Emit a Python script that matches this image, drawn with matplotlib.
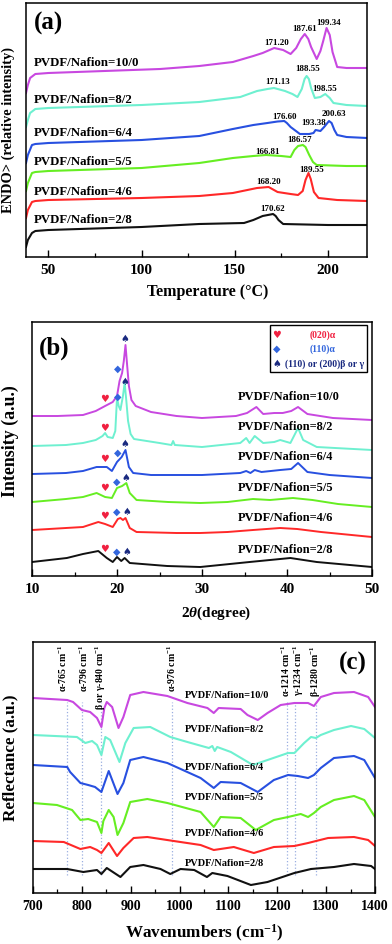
import matplotlib
matplotlib.use('Agg')
import matplotlib.pyplot as plt
from matplotlib.ticker import MultipleLocator
from matplotlib.patches import Rectangle

plt.rcParams['font.family'] = ['Liberation Serif', 'DejaVu Serif']
plt.rcParams['font.weight'] = 'bold'
plt.rcParams['mathtext.fontset'] = 'custom'
plt.rcParams['mathtext.rm'] = 'Liberation Serif:bold'
plt.rcParams['mathtext.it'] = 'Liberation Serif:italic:bold'
plt.rcParams['mathtext.bf'] = 'Liberation Serif:bold'

# ---------------- common ----------------
sample_labels = ['PVDF/Nafion=10/0', 'PVDF/Nafion=8/2', 'PVDF/Nafion=6/4',
                 'PVDF/Nafion=5/5', 'PVDF/Nafion=4/6', 'PVDF/Nafion=2/8']
series_colors = ['#c848e0', '#6ef0d0', '#2850e0', '#66ee22', '#ff2828', '#111111']

# ---------------- (a) DSC ----------------
dsc_T_10_0 = [38, 39, 40.2, 43, 50, 80, 110, 131, 149, 160, 165, 171.2, 176, 180, 183, 185.5, 187.6, 189.5, 191, 194, 196, 197.5, 199.3, 201, 202.5, 205, 210, 221]
dsc_I_10_0 = [164, 172, 179, 183, 184, 186, 188, 191, 195, 201, 204, 209, 207, 203, 209, 218, 223, 218, 210, 198, 206, 216, 229, 222, 205, 190, 189, 189]
dsc_T_8_2 = [38, 39, 40.2, 43, 50, 100, 131, 153, 162, 167.6, 171.1, 177, 181, 183.7, 186, 187.5, 188.6, 189.8, 191, 193, 196, 198.6, 201, 203, 210, 221]
dsc_I_8_2 = [130, 137, 144, 148, 149, 152, 155, 160, 166, 168, 169, 166, 163, 160, 168, 178, 181, 178, 169, 159, 160, 163, 159, 154, 152, 151]
dsc_T_6_4 = [38, 39, 41.2, 43, 50, 100, 131, 149, 160, 167.6, 173, 176.6, 178, 180, 185, 190, 192.3, 193.4, 196, 198, 200.6, 202, 203.5, 205, 210, 221]
dsc_I_6_4 = [94, 102, 112, 113, 114, 117, 121, 128, 132, 134, 135.5, 136, 134, 130, 123, 123, 124, 127, 126, 130, 136, 134, 127, 122, 120, 119]
dsc_T_5_5 = [38, 39, 41.2, 43, 50, 100, 131, 149, 160, 166.8, 175, 180, 182, 184, 186.6, 188, 190, 192, 194, 210, 221]
dsc_I_5_5 = [66, 74, 84, 85, 86, 89, 94, 99, 101, 102, 101, 100, 107, 111, 112, 110, 102, 95, 92, 91, 91]
dsc_T_4_6 = [38, 39, 41.2, 43, 50, 100, 131, 149, 162, 168.2, 173, 180, 184, 186.5, 188, 189.6, 190.8, 192.5, 195, 205, 221]
dsc_I_4_6 = [39, 47, 55, 56, 57, 59, 61, 64, 69, 70, 65, 63, 62, 66, 77, 84, 78, 65, 59, 57, 56]
dsc_T_2_8 = [38, 39, 41.2, 43, 50, 100, 131, 155, 160, 165, 170.6, 172, 173.5, 176, 200, 221]
dsc_I_2_8 = [10, 17, 24, 26, 27, 30, 33, 34, 37, 41, 43, 41, 37, 33, 32, 32]

dsc_peak_text = ['171.20', '187.61', '199.34', '188.55', '171.13', '198.55', '176.60', '193.38',
                 '200.63', '186.57', '166.81', '189.55', '168.20', '170.62']
dsc_peak_text_T = [172.4, 187.5, 200.4, 189.1, 173.0, 198.2, 176.7, 192.3, 203.0, 184.8, 167.6, 191.2, 168.1, 170.3]
dsc_peak_text_I = [214, 228, 234, 188, 175, 168, 140, 134, 143, 117, 105, 87, 75, 48]
dsc_label_T = 42.3
dsc_label_I = [194, 157, 124, 95, 65, 37]

# ---------------- (b) XRD ----------------
xrd_2t_10_0 = [10, 13, 16, 17.5, 18.6, 19.5, 20.0, 20.3, 20.6, 20.8, 21.0, 21.2, 21.4, 21.7, 22.2, 24, 27, 30, 34, 35.3, 36.4, 37.2, 38.5, 39.5, 40.5, 41.3, 42.4, 45.4, 50]
xrd_I_10_0 = [160, 160, 161, 165, 170, 174, 180, 195, 203, 215, 231, 210, 190, 176, 170, 164, 160, 158, 160, 163, 169, 162, 163, 163, 165, 169, 162, 158, 156]
xrd_2t_8_2 = [10, 14, 16, 17.5, 18.3, 18.6, 18.9, 19.5, 19.8, 20.0, 20.2, 20.4, 20.7, 20.9, 21.1, 21.3, 21.6, 22, 25, 26.4, 26.6, 26.8, 30, 34.5, 35.2, 35.6, 36.2, 37.2, 38.5, 39.2, 40.4, 41.3, 41.9, 43.5, 50]
xrd_I_8_2 = [130, 131, 133, 136, 140, 143, 139, 138, 145, 178, 170, 166, 180, 193, 175, 155, 142, 137, 133, 131, 135, 131, 129, 133, 138, 133, 140, 133, 134, 136, 133, 148, 136, 129, 126]
xrd_2t_6_4 = [10, 14, 16, 17.6, 18.8, 19.4, 20.0, 20.55, 21.0, 21.4, 21.9, 24, 30, 34.5, 35.2, 35.7, 36.2, 37, 39.2, 40.5, 41.3, 42.4, 45, 50]
xrd_I_6_4 = [102, 103, 105, 109, 109, 105, 114, 119, 126, 109, 103, 101, 101, 103, 105, 103, 106, 104, 106, 107, 113, 104, 101, 98]
xrd_2t_5_5 = [10, 14, 16, 17.6, 18.6, 19.4, 20.0, 20.6, 21.1, 21.5, 22.3, 26, 29.8, 33, 36, 38, 40.7, 43, 46, 50]
xrd_I_5_5 = [74, 77, 79, 83, 79, 78, 88, 90, 93, 83, 76, 74, 73, 74, 77, 76, 78, 76, 72, 69]
xrd_2t_4_6 = [10, 14, 16, 17.8, 18.6, 19.5, 20.1, 20.4, 20.7, 21.0, 21.5, 22.3, 27, 29.8, 33, 36, 39.2, 41.2, 44, 50]
xrd_I_4_6 = [46, 48, 49, 54, 52, 49, 57, 58, 56, 58, 48, 44, 43, 43, 44, 46, 48, 47, 44, 39]
xrd_2t_2_8 = [10, 14.1, 16, 17.8, 18.8, 19.5, 20.0, 20.5, 20.9, 21.5, 25.9, 29.8, 35.6, 40.4, 43.5, 50]
xrd_I_2_8 = [14, 18, 22, 25, 18, 14, 19, 15, 18, 13, 10, 9, 14, 18, 14, 9]

xrd_heart_2t = 18.5
xrd_heart_I = [177, 148, 117, 88, 60, 27]
xrd_diamond_2t = [20.1, 20.1, 20.1, 20.0, 20.0, 20.0]
xrd_diamond_I = [207, 179, 123, 94, 64, 24]
xrd_spade_2t = [20.95, 20.95, 20.95, 21.0, 21.1, 21.1]
xrd_spade_I = [237, 194, 132, 98, 64, 24]
xrd_label_2t = 34.2
xrd_label_I = [179, 149, 119, 88, 58, 26]
xrd_legend_text = ['(020)α', '(110)α', '(110) or (200)β or γ']

# ---------------- (c) FTIR ----------------
ir_wn_10_0 = [700, 770, 782, 800, 817, 831, 840, 846, 851, 862, 875, 885, 899, 926, 975, 1016, 1057, 1070, 1080, 1125, 1139, 1160, 1180, 1207, 1235, 1263, 1275, 1289, 1316, 1357, 1386, 1400]
ir_I_10_0 = [195, 193, 191, 183, 181, 175, 166, 185, 191, 186, 165, 176, 198, 201, 197, 190, 185, 180, 185, 184, 178, 173, 180, 188, 190, 190, 187, 196, 200, 201, 196, 186]
ir_wn_8_2 = [700, 790, 807, 821, 831, 840, 848, 858, 877, 889, 906, 940, 981, 1016, 1060, 1067, 1072, 1077, 1105, 1150, 1180, 1222, 1235, 1255, 1269, 1279, 1289, 1316, 1351, 1378, 1400]
ir_I_8_2 = [158, 156, 150, 152, 148, 138, 156, 153, 131, 150, 165, 166, 156, 151, 145, 147, 142, 146, 141, 128, 133, 140, 140, 150, 156, 155, 158, 163, 167, 164, 155]
ir_wn_6_4 = [700, 770, 776, 797, 813, 827, 840, 855, 873, 885, 899, 926, 975, 1043, 1070, 1084, 1125, 1160, 1193, 1222, 1242, 1263, 1275, 1289, 1316, 1357, 1378, 1400]
ir_I_6_4 = [128, 126, 121, 110, 108, 106, 101, 122, 99, 110, 133, 136, 130, 115, 105, 111, 110, 101, 113, 118, 117, 115, 118, 125, 135, 137, 133, 115]
ir_wn_5_5 = [700, 749, 780, 797, 813, 831, 840, 844, 855, 865, 873, 885, 899, 934, 975, 1043, 1070, 1084, 1125, 1156, 1193, 1222, 1248, 1263, 1275, 1289, 1316, 1357, 1378, 1400]
ir_I_5_5 = [90, 88, 83, 73, 74, 71, 60, 72, 83, 76, 58, 70, 91, 94, 90, 81, 66, 76, 75, 63, 73, 76, 79, 76, 80, 86, 93, 97, 93, 76]
ir_wn_4_6 = [700, 763, 797, 817, 831, 840, 855, 872, 885, 906, 934, 988, 1043, 1070, 1111, 1152, 1193, 1235, 1263, 1304, 1357, 1386, 1400]
ir_I_4_6 = [52, 51, 44, 46, 43, 40, 50, 37, 45, 55, 56, 52, 48, 43, 46, 40, 46, 47, 50, 55, 56, 53, 47]
ir_wn_2_8 = [700, 770, 803, 831, 840, 851, 879, 899, 926, 961, 981, 1002, 1030, 1056, 1067, 1098, 1146, 1180, 1235, 1269, 1316, 1357, 1392, 1400]
ir_I_2_8 = [24, 24, 21, 23, 19, 25, 16, 26, 28, 24, 19, 24, 23, 16, 20, 17, 8, 11, 20, 24, 26, 29, 27, 24]

ir_band_lines = [769, 800, 840, 985, 1219, 1236, 1279]
ir_band_text = ['α-765 cm$^{-1}$', 'α-796 cm$^{-1}$', 'β or γ-840 cm$^{-1}$', 'α-976 cm$^{-1}$',
                'α-1214 cm$^{-1}$', 'γ-1234 cm$^{-1}$', 'β-1280 cm$^{-1}$']
ir_band_text_wn = [762, 803, 838, 985, 1217, 1244, 1279]
ir_label_wn = 1010
ir_label_I = [197, 163, 125, 96, 60, 30]

# ---------------- figure ----------------
W, H = 392, 944
fig = plt.figure(figsize=(W / 100, H / 100), dpi=100)


def px_axes(left, top, right, bottom):
    return fig.add_axes([left / W, 1 - bottom / H, (right - left) / W, (bottom - top) / H])


def style_axis(ax, major, minor, fs):
    ax.set_yticks([])
    ax.xaxis.set_major_locator(MultipleLocator(major))
    ax.xaxis.set_minor_locator(MultipleLocator(minor))
    ax.tick_params(axis='x', which='major', direction='in', length=5, width=1.0,
                   labelsize=fs, pad=5)
    ax.tick_params(axis='x', which='minor', direction='in', length=3, width=0.9)
    for s in ax.spines.values():
        s.set_linewidth(1.1)
    for lab in ax.get_xticklabels():
        lab.set_fontweight('bold')


# ----- (a)
axA = px_axes(26, 3, 367, 257)
dsc_T = [dsc_T_10_0, dsc_T_8_2, dsc_T_6_4, dsc_T_5_5, dsc_T_4_6, dsc_T_2_8]
dsc_I = [dsc_I_10_0, dsc_I_8_2, dsc_I_6_4, dsc_I_5_5, dsc_I_4_6, dsc_I_2_8]
for T, I, c in zip(dsc_T, dsc_I, series_colors):
    axA.plot(T, I, color=c, lw=1.5, solid_joinstyle='round')
axA.set_xlim(38, 221)
axA.set_ylim(0, 254)
style_axis(axA, 50, 25, 11)
for t, x, y in zip(dsc_peak_text, dsc_peak_text_T, dsc_peak_text_I):
    axA.text(x, y, t, fontsize=6.5, fontweight='bold', ha='center', va='center')
for lab, y in zip(sample_labels, dsc_label_I):
    axA.text(dsc_label_T, y, lab, fontsize=9.3, fontweight='bold', ha='left', va='center')
axA.text(0.024, 0.921, '(a)', transform=axA.transAxes, fontsize=18, fontweight='bold',
         ha='left', va='center')
fig.text(8 / W, 1 - 130 / H, 'ENDO> (relative intensity)', rotation=90, ha='center',
         va='center', fontsize=10.4, fontweight='bold')
fig.text(208 / W, 1 - 292 / H, 'Temperature (°C)', ha='center', va='center',
         fontsize=11.5, fontweight='bold')

# ----- (b)
axB = px_axes(32, 322, 372, 576)
xrd_2t = [xrd_2t_10_0, xrd_2t_8_2, xrd_2t_6_4, xrd_2t_5_5, xrd_2t_4_6, xrd_2t_2_8]
xrd_I = [xrd_I_10_0, xrd_I_8_2, xrd_I_6_4, xrd_I_5_5, xrd_I_4_6, xrd_I_2_8]
for X, I, c in zip(xrd_2t, xrd_I, series_colors):
    axB.plot(X, I, color=c, lw=1.4, solid_joinstyle='round')
axB.set_xlim(10, 50)
axB.set_ylim(0, 254)
style_axis(axB, 10, 5, 11)
heart_c, diamond_c, spade_c = '#f02040', '#3366dd', '#1a2a80'
mk = dict(family=['DejaVu Sans'], ha='center', va='center', fontsize=7)
for i in range(6):
    axB.text(xrd_heart_2t, xrd_heart_I[i], '♥', color=heart_c, **mk)
    axB.text(xrd_diamond_2t[i], xrd_diamond_I[i], '◆', color=diamond_c, **mk)
    axB.text(xrd_spade_2t[i], xrd_spade_I[i], '♠', color=spade_c, **mk)
for lab, y in zip(sample_labels, xrd_label_I):
    axB.text(xrd_label_2t, y, lab, fontsize=8.9, fontweight='bold', ha='left', va='center')
axB.add_patch(Rectangle((38.0, 204), 11.4, 47, fill=False, edgecolor='black', lw=1.0))
axB.text(38.8, 241, '♥', color=heart_c, **mk)
axB.text(38.8, 227, '◆', color=diamond_c, **mk)
axB.text(38.8, 212, '♠', color=spade_c, **mk)
axB.text(44.2, 241, xrd_legend_text[0], color=heart_c, fontsize=7, fontweight='bold',
         ha='center', va='center')
axB.text(44.2, 227, xrd_legend_text[1], color=diamond_c, fontsize=7, fontweight='bold',
         ha='center', va='center')
axB.text(39.8, 212, xrd_legend_text[2], color=spade_c, fontsize=7, fontweight='bold',
         ha='left', va='center')
axB.text(0.02, 0.898, '(b)', transform=axB.transAxes, fontsize=18, fontweight='bold',
         ha='left', va='center')
fig.text(10 / W, 1 - 441 / H, 'Intensity (a.u.)', rotation=90, ha='center',
         va='center', fontsize=12.9, fontweight='bold')
fig.text(216 / W, 1 - 613 / H, '2$\\it{\\theta}$(degree)', ha='center', va='center',
         fontsize=11, fontweight='bold')

# ----- (c)
axC = px_axes(33, 642, 375, 893)
ir_wn = [ir_wn_10_0, ir_wn_8_2, ir_wn_6_4, ir_wn_5_5, ir_wn_4_6, ir_wn_2_8]
ir_I = [ir_I_10_0, ir_I_8_2, ir_I_6_4, ir_I_5_5, ir_I_4_6, ir_I_2_8]
for wv in ir_band_lines:
    axC.plot([wv, wv], [18, 191], color='#9aaee0', lw=0.9, ls=':')
for X, I, c in zip(ir_wn, ir_I, series_colors):
    axC.plot(X, I, color=c, lw=1.5, solid_joinstyle='round')
axC.set_xlim(700, 1400)
axC.set_ylim(0, 251)
style_axis(axC, 100, 50, 10)
for t, x in zip(ir_band_text, ir_band_text_wn):
    axC.text(x, 248, t, rotation=90, fontsize=7, fontweight='bold', ha='center', va='top')
for lab, y in zip(sample_labels, ir_label_I):
    axC.text(ir_label_wn, y, lab, fontsize=7.5, fontweight='bold', ha='left', va='center')
axC.text(0.975, 0.916, '(c)', transform=axC.transAxes, fontsize=18, fontweight='bold',
         ha='right', va='center')
fig.text(10 / W, 1 - 758 / H, 'Reflectance (a.u.)', rotation=90, ha='center',
         va='center', fontsize=12.3, fontweight='bold')
fig.text(204 / W, 1 - 933 / H, 'Wavenumbers (cm$^{-1}$)', ha='center', va='center',
         fontsize=12.3, fontweight='bold')

fig.savefig('out.png', dpi=100)
